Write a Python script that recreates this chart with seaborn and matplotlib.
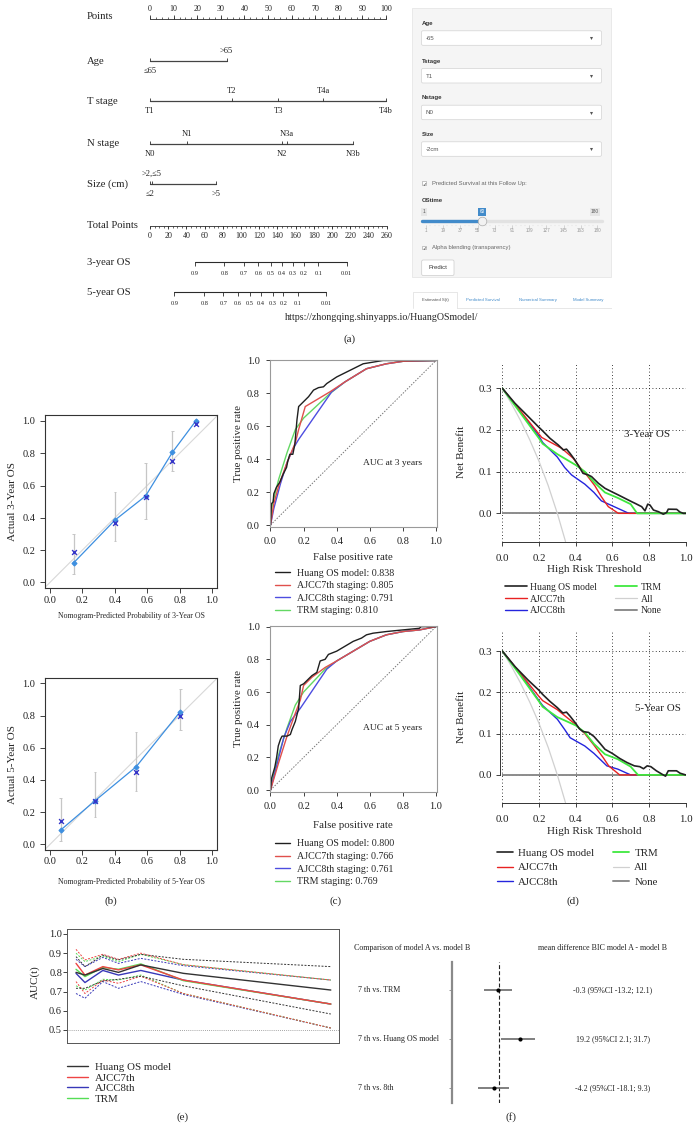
import numpy as np
import pandas as pd
import matplotlib
matplotlib.use("Agg")
import matplotlib.pyplot as plt
from matplotlib.patches import Rectangle, FancyBboxPatch
import seaborn as sns

# ======================= DATA =======================
# (a) nomogram (points scale 0-100)
nomo_rows = ["Points", "Age", "T stage", "N stage", "Size (cm)", "Total Points", "3-year OS", "5-year OS"]
points_ticks = [0, 10, 20, 30, 40, 50, 60, 70, 80, 90, 100]
age_labels = ["≤65", ">65"]
age_points = [0, 32.5]
t_labels = ["T1", "T2", "T3", "T4a", "T4b"]
t_points = [0, 34.6, 54.4, 73.4, 100]
n_labels = ["N0", "N1", "N2", "N3a", "N3b"]
n_points = [0, 15.8, 56.1, 57.9, 86.2]
size_labels = ["≤2", ">2,≤5", ">5"]
size_points = [0, 0.8, 28.0]
total_ticks = [0, 20, 40, 60, 80, 100, 120, 140, 160, 180, 200, 220, 240, 260]
total_max = 260
os_prob_labels = ["0.9", "0.8", "0.7", "0.6", "0.5", "0.4", "0.3", "0.2", "0.1", "0.01"]
os3_total = [49.4, 81.6, 102.9, 119.0, 132.6, 144.7, 156.8, 169.2, 184.9, 216.1]
os5_total = [26.7, 59.7, 80.6, 96.4, 109.9, 122.0, 134.8, 146.5, 162.3, 193.4]
url_text = "https://zhongqing.shinyapps.io/HuangOSmodel/"

# shiny app screenshot
shiny_fields = ["Age", "Tstage", "Nstage", "Size"]
shiny_values = ["-65", "T1", "N0", "-2cm"]
slider_min, slider_val, slider_max = 1, 60, 180
slider_ticks = [1, 19, 37, 55, 73, 91, 109, 127, 145, 163, 180]
shiny_tabs = ["Estimated S(t)", "Predicted Survival", "Numerical Summary", "Model Summary"]

# (b) calibration
cal3_pred = [0.145, 0.40, 0.59, 0.755, 0.90]
cal3_obs = [0.12, 0.385, 0.535, 0.805, 1.0]
cal3_corr = [0.19, 0.37, 0.53, 0.755, 0.98]
cal3_lo = [0.05, 0.255, 0.39, 0.69, np.nan]
cal3_hi = [0.30, 0.56, 0.74, 0.935, np.nan]
cal5_pred = [0.066, 0.278, 0.532, 0.804]
cal5_obs = [0.089, 0.271, 0.482, 0.824]
cal5_corr = [0.147, 0.271, 0.451, 0.799]
cal5_lo = [0.023, 0.172, 0.333, 0.708]
cal5_hi = [0.286, 0.447, 0.696, 0.963]

# (c) ROC curves
roc_names = ["Huang OS model", "AJCC7th staging", "AJCC8th staging", "TRM staging"]
roc3_auc = ["0.838", "0.805", "0.791", "0.810"]
roc5_auc = ["0.800", "0.766", "0.761", "0.769"]
roc3_huang_fpr = [0, 0.006, 0.016, 0.02, 0.036, 0.056, 0.077, 0.097, 0.105, 0.117, 0.135, 0.147, 0.16, 0.17, 0.18, 0.2, 0.23, 0.26, 0.29, 0.32, 0.34, 0.37, 0.40, 0.44, 0.48, 0.52, 0.56, 0.62, 0.68, 1.0]
roc3_huang_tpr = [0, 0.13, 0.14, 0.19, 0.23, 0.26, 0.31, 0.35, 0.39, 0.43, 0.43, 0.49, 0.64, 0.72, 0.73, 0.75, 0.78, 0.82, 0.835, 0.84, 0.86, 0.88, 0.90, 0.92, 0.94, 0.96, 0.98, 0.99, 1.0, 1.0]
roc3_ajcc7_fpr = [0, 0.02, 0.05, 0.10, 0.15, 0.17, 0.21, 0.36, 0.45, 0.58, 0.70, 0.80, 1.0]
roc3_ajcc7_tpr = [0, 0.13, 0.24, 0.38, 0.50, 0.58, 0.72, 0.81, 0.87, 0.95, 0.98, 0.995, 1.0]
roc3_ajcc8_fpr = [0, 0.02, 0.06, 0.10, 0.14, 0.17, 0.37, 0.45, 0.58, 0.70, 0.80, 1.0]
roc3_ajcc8_tpr = [0, 0.10, 0.25, 0.38, 0.47, 0.52, 0.81, 0.87, 0.95, 0.98, 0.995, 1.0]
roc3_trm_fpr = [0, 0.01, 0.05, 0.10, 0.15, 0.20, 0.36, 0.45, 0.58, 0.70, 0.80, 1.0]
roc3_trm_tpr = [0, 0.12, 0.28, 0.44, 0.58, 0.65, 0.80, 0.87, 0.95, 0.98, 0.995, 1.0]
roc5_huang_fpr = [0, 0.006, 0.026, 0.037, 0.047, 0.06, 0.07, 0.10, 0.12, 0.13, 0.15, 0.17, 0.18, 0.20, 0.23, 0.25, 0.28, 0.30, 0.33, 0.35, 0.40, 0.45, 0.50, 0.55, 0.58, 0.62, 0.70, 0.80, 0.90, 0.91, 1.0]
roc5_huang_tpr = [0, 0.07, 0.14, 0.20, 0.27, 0.31, 0.33, 0.33, 0.34, 0.37, 0.42, 0.50, 0.64, 0.65, 0.68, 0.70, 0.72, 0.79, 0.80, 0.83, 0.85, 0.88, 0.91, 0.93, 0.95, 0.96, 0.97, 0.98, 0.99, 1.0, 1.0]
roc5_ajcc7_fpr = [0, 0.05, 0.10, 0.15, 0.18, 0.20, 0.25, 0.33, 0.40, 0.50, 0.60, 0.70, 0.80, 0.90, 1.0]
roc5_ajcc7_tpr = [0, 0.17, 0.33, 0.47, 0.55, 0.64, 0.69, 0.75, 0.79, 0.85, 0.91, 0.95, 0.97, 0.98, 1.0]
roc5_ajcc8_fpr = [0, 0.03, 0.08, 0.12, 0.18, 0.34, 0.40, 0.50, 0.60, 0.70, 0.80, 0.90, 1.0]
roc5_ajcc8_tpr = [0, 0.12, 0.32, 0.42, 0.50, 0.74, 0.79, 0.85, 0.91, 0.95, 0.97, 0.98, 1.0]
roc5_trm_fpr = [0, 0.02, 0.05, 0.10, 0.15, 0.20, 0.33, 0.40, 0.50, 0.60, 0.70, 0.80, 0.90, 1.0]
roc5_trm_tpr = [0, 0.10, 0.22, 0.38, 0.52, 0.60, 0.74, 0.79, 0.85, 0.91, 0.95, 0.97, 0.98, 1.0]
roc_diag = [0, 1]

# (d) decision curves
dca_names = ["Huang OS model", "AJCC7th", "AJCC8th", "TRM", "All", "None"]
dca3_huang_thr = [0, 0.069, 0.142, 0.196, 0.215, 0.26, 0.305, 0.333, 0.35, 0.369, 0.396, 0.424, 0.44, 0.469, 0.487, 0.524, 0.56, 0.596, 0.633, 0.669, 0.705, 0.724, 0.76, 0.778, 0.793, 0.805, 0.824, 0.851, 0.878, 0.896, 0.905, 0.951, 0.969, 0.987, 1.0]
dca3_huang_nb = [0.3, 0.264, 0.232, 0.208, 0.2, 0.18, 0.164, 0.152, 0.154, 0.144, 0.128, 0.108, 0.096, 0.092, 0.088, 0.072, 0.06, 0.052, 0.044, 0.036, 0.028, 0.024, 0.016, 0.006, 0.022, 0.02, 0.008, 0.004, -0.002, 0.002, 0.010, 0.0096, 0.003, 0.0, 0.0]
dca3_ajcc7_thr = [0, 0.1, 0.2, 0.215, 0.324, 0.387, 0.424, 0.46, 0.505, 0.54, 0.578, 0.633, 1.0]
dca3_ajcc7_nb = [0.3, 0.245, 0.19, 0.182, 0.156, 0.132, 0.11, 0.092, 0.066, 0.04, 0.016, 0.0, 0.0]
dca3_ajcc8_thr = [0, 0.1, 0.2, 0.22, 0.3, 0.34, 0.378, 0.45, 0.5, 0.54, 0.6, 0.69, 1.0]
dca3_ajcc8_nb = [0.3, 0.243, 0.185, 0.17, 0.135, 0.11, 0.092, 0.07, 0.05, 0.03, 0.018, 0.0, 0.0]
dca3_trm_thr = [0, 0.1, 0.2, 0.22, 0.3, 0.4, 0.45, 0.5, 0.56, 0.63, 0.7, 0.735, 1.0]
dca3_trm_nb = [0.3, 0.24, 0.18, 0.167, 0.142, 0.116, 0.1, 0.075, 0.05, 0.037, 0.022, 0.0, 0.0]
dca5_huang_thr = [0, 0.07, 0.14, 0.2, 0.22, 0.26, 0.3, 0.33, 0.35, 0.37, 0.4, 0.42, 0.44, 0.47, 0.5, 0.53, 0.56, 0.6, 0.64, 0.68, 0.72, 0.75, 0.77, 0.79, 0.81, 0.84, 0.87, 0.89, 0.905, 0.95, 0.97, 1.0]
dca5_huang_nb = [0.3, 0.262, 0.23, 0.205, 0.195, 0.178, 0.163, 0.15, 0.152, 0.142, 0.125, 0.112, 0.105, 0.103, 0.093, 0.078, 0.062, 0.052, 0.04, 0.03, 0.022, 0.02, 0.015, 0.022, 0.02, 0.01, 0.002, -0.003, 0.01, 0.01, 0.004, 0.0]
dca5_ajcc7_thr = [0, 0.1, 0.2, 0.22, 0.3, 0.4, 0.45, 0.5, 0.55, 0.58, 0.64, 1.0]
dca5_ajcc7_nb = [0.3, 0.245, 0.19, 0.18, 0.158, 0.122, 0.1, 0.072, 0.042, 0.022, 0.0, 0.0]
dca5_ajcc8_thr = [0, 0.1, 0.2, 0.22, 0.3, 0.34, 0.37, 0.45, 0.5, 0.57, 0.63, 0.7, 1.0]
dca5_ajcc8_nb = [0.3, 0.243, 0.18, 0.168, 0.135, 0.11, 0.09, 0.07, 0.052, 0.022, 0.014, 0.0, 0.0]
dca5_trm_thr = [0, 0.1, 0.2, 0.22, 0.3, 0.4, 0.45, 0.5, 0.56, 0.63, 0.7, 0.74, 1.0]
dca5_trm_nb = [0.3, 0.24, 0.178, 0.165, 0.14, 0.12, 0.103, 0.075, 0.05, 0.038, 0.02, 0.0, 0.0]
dca_all_thr = [0, 0.05, 0.1, 0.15, 0.2, 0.25, 0.3, 0.345]
dca_all_nb = [0.3, 0.263, 0.222, 0.176, 0.125, 0.067, 0.0, -0.068]
dca_none_thr = [0, 1]
dca_none_nb = [0, 0]

# (e) time-dependent AUC
auc_names = ["Huang OS model", "AJCC7th", "AJCC8th", "TRM"]
auc_times = [12, 16, 24, 31, 41, 60, 126]
auc_huang = [0.800, 0.786, 0.820, 0.800, 0.839, 0.795, 0.708]
auc_ajcc7 = [0.847, 0.786, 0.830, 0.813, 0.839, 0.760, 0.635]
auc_ajcc8 = [0.795, 0.747, 0.810, 0.786, 0.810, 0.760, 0.635]
auc_trm = [0.816, 0.778, 0.826, 0.816, 0.844, 0.757, 0.635]
auc_huang_hi = [0.882, 0.830, 0.890, 0.865, 0.894, 0.868, 0.830]
auc_ajcc7_hi = [0.920, 0.865, 0.894, 0.868, 0.900, 0.840, 0.760]
auc_ajcc8_hi = [0.868, 0.830, 0.878, 0.847, 0.873, 0.835, 0.760]
auc_trm_hi = [0.900, 0.856, 0.885, 0.856, 0.894, 0.840, 0.760]
auc_huang_lo = [0.717, 0.717, 0.755, 0.764, 0.780, 0.730, 0.583]
auc_ajcc7_lo = [0.752, 0.690, 0.760, 0.743, 0.780, 0.690, 0.510]
auc_ajcc8_lo = [0.690, 0.665, 0.752, 0.717, 0.752, 0.685, 0.510]
auc_trm_lo = [0.730, 0.708, 0.764, 0.760, 0.786, 0.690, 0.510]
auc_ref = 0.5

# (f) BIC comparison
bic_comparisons = ["7 th vs. TRM", "7 th vs. Huang OS model", "7 th vs. 8th"]
bic_mean = [-0.3, 19.2, -4.2]
bic_lo = [-13.2, 2.1, -18.1]
bic_hi = [12.1, 31.7, 9.3]
bic_text = ["-0.3 (95%CI -13.2; 12.1)", "19.2 (95%CI 2.1; 31.7)", "-4.2 (95%CI -18.1; 9.3)"]

# ======================= STYLE =======================
sns.set_theme(style="ticks")
plt.rcParams['font.family'] = ['Liberation Serif', 'DejaVu Serif']
plt.rcParams['axes.unicode_minus'] = False
SANS = ['Liberation Sans', 'DejaVu Sans']

W, H = 699, 1140
fig = plt.figure(figsize=(W / 100, H / 100), dpi=100)
fig.patch.set_facecolor('white')
BOX = {}


def add_ax(name, x0, y0, x1, y1):
    ax = fig.add_axes([x0 / W, 1 - y1 / H, (x1 - x0) / W, (y1 - y0) / H])
    BOX[name] = (x0, y0, x1, y1)
    ax.set_facecolor('none')
    return ax


def fx(name, px):
    x0, y0, x1, y1 = BOX[name]
    return (px - x0) / (x1 - x0)


def fy(name, py):
    x0, y0, x1, y1 = BOX[name]
    return (y1 - py) / (y1 - y0)


def ftext(x, y, s, **kw):
    fig.text(x / W, 1 - y / H, s, **kw)


# ======================= (a) NOMOGRAM =======================
nom = add_ax('nom', 0, 0, 405, 330)
PXPT, X0 = 2.36, 150
nom.set_xlim(-X0 / PXPT, (405 - X0) / PXPT)
nom.set_ylim(330, 0)
nom.axis('off')
LC = '#2b2b2b'
row_y = [19, 61, 101, 144, 184, 226, 262.3, 292.3]
lab_x = (87 - X0) / PXPT
for lab, y in zip(nomo_rows, row_y):
    nom.text(lab_x, y - (2.3 if lab == "Points" else 0), lab, fontsize=7.7,
             ha='left', va='center', color='#222')

y = row_y[0]
nom.plot([0, 100], [y, y], color=LC, lw=0.6)
nom.vlines(np.arange(0, 100.01, 2.5), y - 2.2, y, color=LC, lw=0.5)
nom.vlines(points_ticks, y - 3.6, y, color=LC, lw=0.6)
for v in points_ticks:
    nom.text(v, y - 9.7, str(v), fontsize=5.8, ha='center', va='center', color='#222')


def var_row(y, pts, labels):
    nom.plot([min(pts), max(pts)], [y, y], color='#444', lw=0.9)
    nom.vlines(pts, y - 2.8, y, color=LC, lw=0.6)
    for i, (p, l) in enumerate(zip(pts, labels)):
        nom.text(p, y + 10.3 if i % 2 == 0 else y - 10.3, l, fontsize=6.1,
                 ha='center', va='center', color='#222')


var_row(row_y[1], age_points, age_labels)
var_row(row_y[2], t_points, t_labels)
var_row(row_y[3], n_points, n_labels)
var_row(row_y[4], size_points, size_labels)

k_tp = 100.3 / total_max
y = row_y[5]
nom.plot([0, total_max * k_tp], [y, y], color=LC, lw=0.6)
nom.vlines(np.arange(0, total_max + 0.1, 5) * k_tp, y, y + 2.4, color=LC, lw=0.5)
nom.vlines(np.array(total_ticks) * k_tp, y, y + 3.4, color=LC, lw=0.6)
for v in total_ticks:
    nom.text(v * k_tp, y + 10, str(v), fontsize=5.8, ha='center', va='center', color='#222')


def os_row(y, totals):
    xs = np.array(totals) * k_tp
    nom.plot([xs.min(), xs.max()], [y, y], color=LC, lw=0.8)
    nom.vlines(xs, y, y + 3.5, color=LC, lw=0.6)
    for xv, l in zip(xs, os_prob_labels):
        nom.text(xv, y + 11.3, l, fontsize=4.6, ha='center', va='center', color='#222')


os_row(row_y[6], os3_total)
os_row(row_y[7], os5_total)

ftext(285, 318, url_text, fontsize=7.2, ha='left', va='center')
ftext(350, 339, "(a)", fontsize=8, ha='center', va='center')

# ======================= SHINY PANEL =======================
sh = add_ax('sh', 400, 0, 611.5, 320)
sh.set_xlim(400, 611.5)
sh.set_ylim(320, 0)
sh.axis('off')
sh.add_patch(Rectangle((411.5, 8.3), 199.3, 268.4, fc='#f5f5f5', ec='#e6e6e6', lw=0.6))
label_y = [23.3, 61, 97.7, 134.3]
for lab, val, ly in zip(shiny_fields, shiny_values, label_y):
    sh.text(421.5, ly, lab, family=SANS, fontsize=4.4, fontweight='bold', color='#333', va='center')
    sh.add_patch(FancyBboxPatch((421.5, ly + 7.5), 180, 14.5,
                                boxstyle="round,pad=0,rounding_size=1.5",
                                fc='white', ec='#d3d3d3', lw=0.5))
    sh.text(425.5, ly + 15, val, family=SANS, fontsize=4.4, color='#555', va='center')
    sh.plot([590.7], [ly + 15], marker='v', ms=2.2, color='#555', mec='none')


def checkbox(yc, text):
    sh.add_patch(Rectangle((422.4, yc - 1.9), 3.6, 3.6, fc='white', ec='#999', lw=0.4))
    sh.text(424.2, yc, '✓', family=['DejaVu Sans'], fontsize=3.6, ha='center', va='center', color='#333')
    sh.text(431.5, yc, text, family=SANS, fontsize=4.2, color='#666', va='center')


checkbox(183.3, "Predicted Survival at this Follow Up:")
sh.text(421.5, 201, "OStime", family=SANS, fontsize=4.3, fontweight='bold', color='#333', va='center')


def sx(v):
    return 426 + (v - slider_min) / (slider_max - slider_min) * 171


sh.plot([421.5, 601.5], [221, 221], color='#e2e2e2', lw=2.4, solid_capstyle='round')
sh.plot([421.5, sx(slider_val)], [221, 221], color='#428bca', lw=2.4, solid_capstyle='round')
sh.plot([sx(slider_val)], [221], marker='o', ms=6.2, mfc='#f2f2f2', mec='#aaaaaa', mew=0.5)
for xb, txt, fcol, tcol in [(423.8, str(slider_min), '#e6e6e6', '#555'),
                            (sx(slider_val), str(slider_val), '#428bca', 'white'),
                            (595, str(slider_max), '#e6e6e6', '#555')]:
    sh.text(xb, 211.7, txt, family=SANS, fontsize=3.4, ha='center', va='center', color=tcol,
            bbox=dict(boxstyle='square,pad=0.3', fc=fcol, ec='none'))
for v in slider_ticks:
    sh.plot([sx(v), sx(v)], [224.5, 227.8], color='#bbbbbb', lw=0.4)
    sh.text(sx(v), 231, str(v), family=SANS, fontsize=3.3, ha='center', va='center', color='#999')
for a, b in zip(slider_ticks[:-1], slider_ticks[1:]):
    for f in (0.25, 0.5, 0.75):
        xm = sx(a + (b - a) * f)
        sh.plot([xm, xm], [224.5, 226.2], color='#cccccc', lw=0.3)
checkbox(247.7, "Alpha blending (transparency)")
sh.add_patch(FancyBboxPatch((421.7, 260), 32.3, 15.5, boxstyle="round,pad=0,rounding_size=1.5",
                            fc='white', ec='#cccccc', lw=0.5))
sh.text(437.8, 267.8, "Predict", family=SANS, fontsize=4.3, ha='center', va='center', color='#333')
sh.plot([456.7, 611.5], [308.3, 308.3], color='#dddddd', lw=0.5)
sh.plot([413.3, 413.3, 456.7, 456.7], [308.3, 291.7, 291.7, 308.3], color='#dddddd', lw=0.5)
tab_x = [435, 483.3, 538.3, 573.3]
tab_ha = ['center', 'center', 'center', 'left']
tab_col = ['#555555', '#428bca', '#428bca', '#428bca']
for t, xt, ha, c in zip(shiny_tabs, tab_x, tab_ha, tab_col):
    sh.text(xt, 300, t, family=SANS, fontsize=3.1, ha=ha, va='center', color=c, clip_on=True)

# ======================= (b) CALIBRATION =======================


def calib(name, box, ylim, pred, obs, corr, lo, hi, ylab, xlab, xlab_y):
    ax = add_ax(name, *box)
    ax.set_xlim(-0.031, 1.031)
    ax.set_ylim(*ylim)
    ax.axline((0, 0), (1, 1), color='#d8d8d8', lw=0.8, zorder=1)
    ax.vlines(pred, lo, hi, color='#c6c6c6', lw=0.9, zorder=2)
    ax.hlines(lo, np.array(pred) - 0.008, np.array(pred) + 0.008, color='#c6c6c6', lw=0.7)
    ax.hlines(hi, np.array(pred) - 0.008, np.array(pred) + 0.008, color='#c6c6c6', lw=0.7)
    sns.lineplot(x=pred, y=obs, ax=ax, color='#3d8fe0', lw=0.9, marker='D', markersize=2.6,
                 markeredgecolor='#3d8fe0', sort=False, estimator=None, zorder=3)
    sns.scatterplot(x=pred, y=corr, ax=ax, marker='x', s=12, color='#3535c8', linewidth=1.0, zorder=4)
    ticks = [0, 0.2, 0.4, 0.6, 0.8, 1.0]
    ax.set_xticks(ticks, labels=[f"{t:.1f}" for t in ticks])
    ax.set_yticks(ticks, labels=[f"{t:.1f}" for t in ticks])
    ax.tick_params(axis='both', labelsize=7.5, length=3.5, width=0.6, colors='#222')
    ax.tick_params(axis='x', pad=1.8)
    ax.tick_params(axis='y', pad=3.5)
    for s in ax.spines.values():
        s.set_color('#333')
        s.set_linewidth(0.8)
    ax.set_xlabel(xlab, fontsize=5.6, va='center', ha='center')
    ax.set_ylabel(ylab, fontsize=8, va='center', ha='center')
    ax.xaxis.set_label_coords(0.5, fy(name, xlab_y))
    ax.yaxis.set_label_coords(fx(name, 12.3), 0.5)
    return ax


calib('cal3', (45, 415, 217, 588.3), (-0.037, 1.037), cal3_pred, cal3_obs, cal3_corr, cal3_lo, cal3_hi,
      "Actual 3-Year OS", "Nomogram-Predicted Probability of 3-Year OS", 616)
calib('cal5', (45, 678.3, 217, 850), (-0.035, 1.031), cal5_pred, cal5_obs, cal5_corr, cal5_lo, cal5_hi,
      "Actual 5-Year OS", "Nomogram-Predicted Probability of 5-Year OS", 882)
ftext(111, 901, "(b)", fontsize=8, ha='center', va='center')

# ======================= (c) ROC =======================
ROC_COL = ['#1f1f1f', '#e0504c', '#4d4de0', '#63d863']


def roc_panel(name, box, ylim, curves, aucs, auc_txt, xlab_y, leg_top):
    ax = add_ax(name, *box)
    ax.set_xlim(-0.003, 1.003)
    ax.set_ylim(*ylim)
    ax.plot(roc_diag, roc_diag, color='#777', lw=0.7, ls=(0, (1.5, 1.5)))
    handles = [None] * 4
    for i in [3, 2, 1, 0]:
        xs, ys = curves[i]
        sns.lineplot(x=xs, y=ys, ax=ax, color=ROC_COL[i], lw=1.0, sort=False, estimator=None)
        handles[i] = ax.lines[-1]
    ax.text(0.74, 0.38, auc_txt, fontsize=6.8, ha='center', va='center', color='#222')
    ticks = [0, 0.2, 0.4, 0.6, 0.8, 1.0]
    ax.set_xticks(ticks, labels=[f"{t:.1f}" for t in ticks])
    ax.set_yticks(ticks, labels=[f"{t:.1f}" for t in ticks])
    ax.tick_params(axis='both', labelsize=7.5, length=3, width=0.6, colors='#222', pad=4.3)
    for s in ax.spines.values():
        s.set_color('#9a9a9a')
        s.set_linewidth(0.8)
    ax.set_xlabel("False positive rate", fontsize=7.8, va='center', ha='center')
    ax.set_ylabel("True positive rate", fontsize=7.8, va='center', ha='center')
    ax.xaxis.set_label_coords(0.5, fy(name, xlab_y))
    ax.yaxis.set_label_coords(fx(name, 238.3), 0.5)
    ax.legend(handles, [f"{n}: {a}" for n, a in zip(roc_names, aucs)], loc='upper left',
              bbox_to_anchor=(275 / W, 1 - leg_top / H), bbox_transform=fig.transFigure,
              frameon=False, borderpad=0, borderaxespad=0, fontsize=7.2, handlelength=1.5,
              handletextpad=0.7, labelspacing=0.36)
    return ax


roc_panel('roc3', (270, 359.5, 436.5, 527), (-0.012, 1.006),
          [(roc3_huang_fpr, roc3_huang_tpr), (roc3_ajcc7_fpr, roc3_ajcc7_tpr),
           (roc3_ajcc8_fpr, roc3_ajcc8_tpr), (roc3_trm_fpr, roc3_trm_tpr)],
          roc3_auc, "AUC at 3 years", 557, 568.5)
roc_panel('roc5', (270, 625.5, 436.5, 792), (-0.012, 1.007),
          [(roc5_huang_fpr, roc5_huang_tpr), (roc5_ajcc7_fpr, roc5_ajcc7_tpr),
           (roc5_ajcc8_fpr, roc5_ajcc8_tpr), (roc5_trm_fpr, roc5_trm_tpr)],
          roc5_auc, "AUC at 5 years", 825, 839.5)
ftext(336, 901, "(c)", fontsize=8, ha='center', va='center')

# ======================= (d) DCA =======================
DCA_COL = ['#222222', '#e82222', '#2424dd', '#3fe83f', '#d0d0d0', '#8c8c8c']
DCA_LW = [1.2, 1.0, 1.0, 1.3, 0.9, 1.4]


def dca_panel(name, box, ylim, curves, txt, txt_xy, xlab_y, leg):
    ax = add_ax(name, *box)
    ax.set_xlim(0, 1)
    ax.set_ylim(*ylim)
    handles = [None] * 6
    for i in [5, 4, 2, 1, 3, 0]:
        xs, ys = curves[i]
        sns.lineplot(x=xs, y=ys, ax=ax, color=DCA_COL[i], lw=DCA_LW[i], sort=False, estimator=None)
        handles[i] = ax.lines[-1]
    ax.text(txt_xy[0], txt_xy[1], txt, fontsize=7.8, ha='center', va='center', color='#222')
    xt = [0, 0.2, 0.4, 0.6, 0.8, 1.0]
    yt = [0.0, 0.1, 0.2, 0.3]
    ax.set_xticks(xt, labels=[f"{t:.1f}" for t in xt])
    ax.set_yticks(yt, labels=[f"{t:.1f}" for t in yt])
    ax.grid(True, color='black', ls=(0, (1, 3)), lw=0.6)
    ax.set_axisbelow(True)
    ax.spines['top'].set_visible(False)
    ax.spines['right'].set_visible(False)
    ax.spines['left'].set_bounds(0, 0.3)
    ax.spines['left'].set_position(('outward', 1.7))
    ax.spines['bottom'].set_bounds(0, 1)
    for s in ('left', 'bottom'):
        ax.spines[s].set_color('#333')
        ax.spines[s].set_linewidth(0.7)
    ax.tick_params(axis='both', labelsize=7.8, length=2.6, width=0.6, colors='#222')
    ax.tick_params(axis='x', pad=6.2)
    ax.tick_params(axis='y', pad=3.2)
    ax.set_xlabel("High Risk Threshold", fontsize=8.1, va='center', ha='center')
    ax.set_ylabel("Net Benefit", fontsize=8.1, va='center', ha='center')
    ax.xaxis.set_label_coords(0.5, fy(name, xlab_y))
    ax.yaxis.set_label_coords(fx(name, 461.7), 0.5)
    lx, ltop, fs, hl, htp, ls, cs = leg
    ax.legend(handles, dca_names, loc='upper left', ncol=2,
              bbox_to_anchor=(lx / W, 1 - ltop / H), bbox_transform=fig.transFigure,
              frameon=False, borderpad=0, borderaxespad=0, fontsize=fs, handlelength=hl,
              handletextpad=htp, labelspacing=ls, columnspacing=cs)
    return ax


dca_panel('dca3', (502.3, 362, 685.7, 541.7), (-0.068, 0.363),
          [(dca3_huang_thr, dca3_huang_nb), (dca3_ajcc7_thr, dca3_ajcc7_nb),
           (dca3_ajcc8_thr, dca3_ajcc8_nb), (dca3_trm_thr, dca3_trm_nb),
           (dca_all_thr, dca_all_nb), (dca_none_thr, dca_none_nb)],
          "3-Year OS", (0.79, 0.188), 570, (505, 582.7, 6.9, 2.3, 0.33, 0.30, 1.9))
dca_panel('dca5', (502.3, 630, 685.7, 803), (-0.068, 0.351),
          [(dca5_huang_thr, dca5_huang_nb), (dca5_ajcc7_thr, dca5_ajcc7_nb),
           (dca5_ajcc8_thr, dca5_ajcc8_nb), (dca5_trm_thr, dca5_trm_nb),
           (dca_all_thr, dca_all_nb), (dca_none_thr, dca_none_nb)],
          "5-Year OS", (0.85, 0.16), 831.7, (497, 848.4, 7.8, 1.5, 0.45, 0.44, 1.75))
ftext(573, 901, "(d)", fontsize=8, ha='center', va='center')

# ======================= (e) AUC(t) =======================
AUC_COL = ['#333333', '#ee4444', '#3838b8', '#55dd55']
ae = add_ax('auc', 67.3, 929, 339.3, 1043)
ae.set_xlim(8.1, 129.8)
ae.set_ylim(0.432, 1.026)
ae.axhline(auc_ref, color='#888', lw=0.6, ls=(0, (1, 1.5)))
mids = [auc_huang, auc_ajcc7, auc_ajcc8, auc_trm]
his = [auc_huang_hi, auc_ajcc7_hi, auc_ajcc8_hi, auc_trm_hi]
los = [auc_huang_lo, auc_ajcc7_lo, auc_ajcc8_lo, auc_trm_lo]
for i in [2, 3, 1, 0]:
    sns.lineplot(x=auc_times, y=his[i], ax=ae, color=AUC_COL[i], lw=0.7, ls=(0, (2, 1.5)), estimator=None)
    sns.lineplot(x=auc_times, y=los[i], ax=ae, color=AUC_COL[i], lw=0.7, ls=(0, (2, 1.5)), estimator=None)
auc_handles = [None] * 4
for i in [2, 3, 1, 0]:
    sns.lineplot(x=auc_times, y=mids[i], ax=ae, color=AUC_COL[i], lw=1.0, estimator=None)
    auc_handles[i] = ae.lines[-1]
ae.set_xticks([])
yt = [0.5, 0.6, 0.7, 0.8, 0.9, 1.0]
ae.set_yticks(yt, labels=[f"{t:.1f}" for t in yt])
ae.tick_params(axis='y', labelsize=7.5, length=2.6, width=0.6, colors='#222', pad=1.2)
for s in ae.spines.values():
    s.set_color('#555')
    s.set_linewidth(0.7)
ae.set_ylabel("AUC(t)", fontsize=8, va='center', ha='center')
ae.yaxis.set_label_coords(fx('auc', 35), fy('auc', 981.7))
ae.legend(auc_handles, auc_names, loc='upper left', bbox_to_anchor=(67 / W, 1 - 1062.5 / H),
          bbox_transform=fig.transFigure, frameon=False, borderpad=0, borderaxespad=0,
          fontsize=7.8, handlelength=1.95, handletextpad=0.62, labelspacing=0.09)
ftext(183, 1117, "(e)", fontsize=8, ha='center', va='center')

# ======================= (f) BIC forest =======================
fo = add_ax('fo', 452, 962, 560, 1103)
fo.set_xlim(-41.3, 54.2)
fo.axvline(0, color='#222', lw=0.8, ls=(0, (3.5, 2)))
rows = list(range(len(bic_comparisons)))
fo.hlines(rows, bic_lo, bic_hi, color='#6a6a6a', lw=1.2)
sns.scatterplot(x=bic_mean, y=rows, ax=fo, color='black', s=9, linewidth=0, zorder=3)
fo.set_ylim(2.306, -0.571)
fo.set_xticks([])
fo.set_yticks(rows, labels=[""] * len(rows))
fo.tick_params(axis='y', length=2, width=0.6, colors='#888')
for s in ('top', 'right', 'bottom'):
    fo.spines[s].set_visible(False)
fo.spines['left'].set_color('#8a8a8a')
fo.spines['left'].set_linewidth(1.6)
for r, lab, txt in zip(rows, bic_comparisons, bic_text):
    fo.text(fx('fo', 358), r, lab, transform=fo.get_yaxis_transform(), fontsize=5.8,
            ha='left', va='center', color='#222')
    fo.text(fx('fo', 613), r, txt, transform=fo.get_yaxis_transform(), fontsize=5.8,
            ha='center', va='center', color='#222')
hdr = add_ax('hdr', 350, 940, 670, 957)
hdr.axis('off')
hdr.text(fx('hdr', 354), 0.5, "Comparison of model A vs. model B", transform=hdr.transAxes,
         fontsize=5.8, ha='left', va='center', color='#222', clip_on=True)
hdr.text(fx('hdr', 538), 0.5, "mean difference BIC model A - model B", transform=hdr.transAxes,
         fontsize=5.8, ha='left', va='center', color='#222', clip_on=True)
ftext(511, 1117, "(f)", fontsize=8, ha='center', va='center')

fig.savefig("out.png", dpi=100)
